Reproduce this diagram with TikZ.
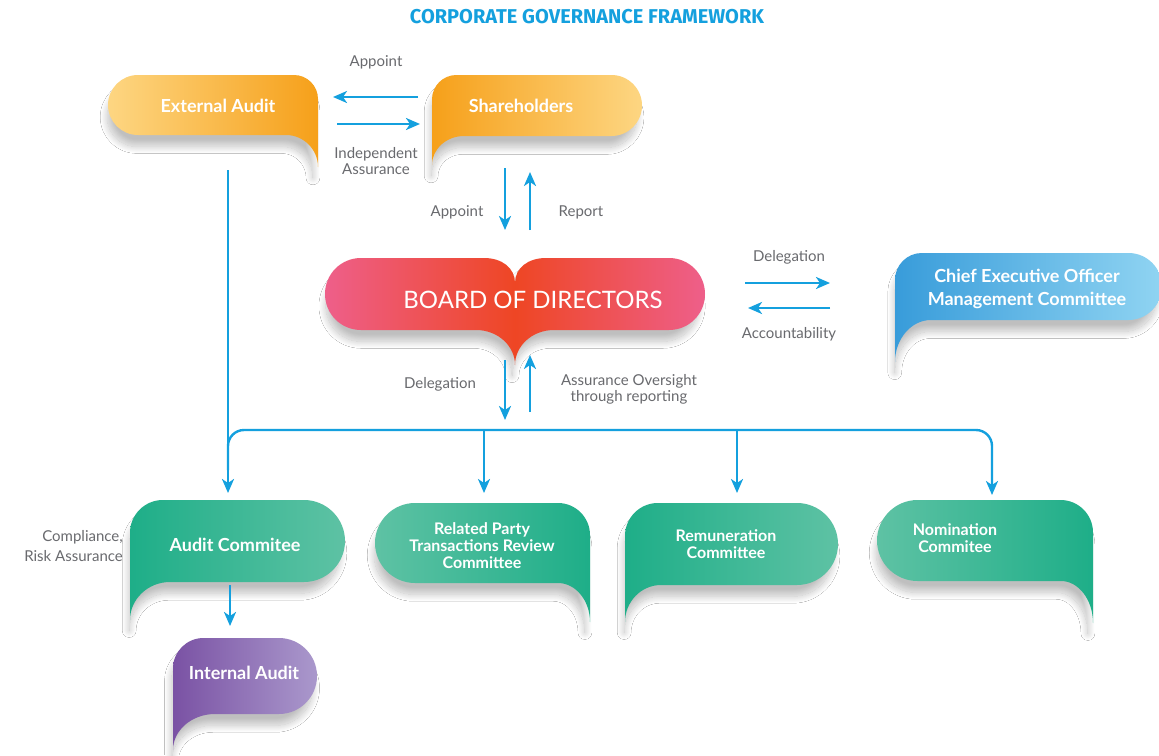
\documentclass[tikz,border=0pt]{standalone}
\usepackage{fontspec}
\setmainfont{Lato}
\newfontfamily\titlefont{Fira Sans}
\usetikzlibrary{arrows.meta, shadows.blur}

\definecolor{flowblue}{RGB}{20,160,222}
\definecolor{labelgray}{RGB}{105,106,110}
\definecolor{orangedark}{RGB}{246,160,26}
\definecolor{orangelight}{RGB}{253,214,130}
\definecolor{bodpink}{RGB}{238,95,138}
\definecolor{bodred}{RGB}{238,70,36}
\definecolor{ceodark}{RGB}{56,156,218}
\definecolor{ceolight}{RGB}{144,212,242}
\definecolor{greendark}{RGB}{30,174,136}
\definecolor{greenlight}{RGB}{94,194,164}
\definecolor{purpledark}{RGB}{122,82,164}
\definecolor{purplelight}{RGB}{170,152,204}

% speech bubble, tail hanging from the right end
% #1 style, #2 x1, #3 y1, #4 x2, #5 y2, #6 tip y, #7 tail width
\newcommand{\bubbleright}[7]{%
  \pgfmathsetmacro{\bR}{(#5-#3)/2}%
  \pgfmathsetmacro{\bK}{0.55*\bR}%
  \pgfmathsetmacro{\bC}{0.8*\bR}%
  \pgfmathsetmacro{\bCK}{0.55*\bC}%
  \pgfmathsetmacro{\bT}{0.55*(#6-#5)}%
  \pgfmathsetmacro{\bW}{0.55*#7}%
  \path[#1] ({#2+\bR},#3) -- ({#4-\bC},#3)
    .. controls ({#4-\bC+\bCK},#3) and (#4,{#3+\bC-\bCK}) .. (#4,{#3+\bC})
    -- (#4,#6)
    .. controls (#4,{#6-\bT}) and ({#4-#7+\bW},#5) .. ({#4-#7},#5)
    -- ({#2+\bR},#5)
    .. controls ({#2+\bR-\bK},#5) and (#2,{#5-\bR+\bK}) .. (#2,{#3+\bR})
    .. controls (#2,{#3+\bR-\bK}) and ({#2+\bR-\bK},#3) .. ({#2+\bR},#3) -- cycle;
}
% same, tail hanging from the left end
\newcommand{\bubbleleft}[7]{%
  \pgfmathsetmacro{\bR}{(#5-#3)/2}%
  \pgfmathsetmacro{\bK}{0.55*\bR}%
  \pgfmathsetmacro{\bC}{0.8*\bR}%
  \pgfmathsetmacro{\bCK}{0.55*\bC}%
  \pgfmathsetmacro{\bT}{0.55*(#6-#5)}%
  \pgfmathsetmacro{\bW}{0.55*#7}%
  \path[#1] ({#4-\bR},#3) -- ({#2+\bC},#3)
    .. controls ({#2+\bC-\bCK},#3) and (#2,{#3+\bC-\bCK}) .. (#2,{#3+\bC})
    -- (#2,#6)
    .. controls (#2,{#6-\bT}) and ({#2+#7-\bW},#5) .. ({#2+#7},#5)
    -- ({#4-\bR},#5)
    .. controls ({#4-\bR+\bK},#5) and (#4,{#5-\bR+\bK}) .. (#4,{#3+\bR})
    .. controls (#4,{#3+\bR-\bK}) and ({#4-\bR+\bK},#3) .. ({#4-\bR},#3) -- cycle;
}

\tikzset{
  flow/.style={draw=flowblue, line width=2.4pt, -{Stealth[length=14pt,width=12pt,inset=4pt]}},
  lbl/.style={text=labelgray, font=\fontsize{15}{16}\selectfont, align=center, inner sep=0pt},
  boxtext/.style={text=white, font=\bfseries\fontsize{18}{23}\selectfont, align=center, inner sep=0pt},
  smalltext/.style={boxtext, font=\bfseries\fontsize{16}{17}\selectfont},
  soft/.style={blur shadow={shadow xshift=-3pt, shadow yshift=-12pt, shadow scale=0.98, shadow blur radius=7pt, shadow blur steps=20, shadow opacity=25}},
}

\begin{document}
\begin{tikzpicture}[x=1pt, y=-1pt]
\useasboundingbox (0,0) rectangle (1159,755);
\fill[white] (0,0) rectangle (1159,755);

% title
\node[text=flowblue, font=\titlefont\bfseries\fontsize{20}{22}\selectfont] (title) at (587,17) {CORPORATE GOVERNANCE FRAMEWORK};

% bubbles
\bubbleright{soft, left color=orangelight, right color=orangedark}{108}{75}{318}{135}{167}{32}
\bubbleleft{soft, left color=orangedark, right color=orangelight}{432}{75}{642}{136}{165}{32}
\bubbleleft{soft, left color=ceodark, right color=ceolight}{895}{253}{1162}{320}{362}{36}
\bubbleleft{soft, left color=greendark, right color=greenlight}{130}{500}{345}{582}{620}{40}
\bubbleright{soft, left color=greenlight, right color=greendark}{375}{503}{590}{583}{622}{32}
\bubbleleft{soft, left color=greendark, right color=greenlight}{625}{503}{838}{585}{622}{36}
\bubbleright{soft, left color=greenlight, right color=greendark}{877}{500}{1093}{581}{623}{32}
\bubbleleft{soft, left color=purpledark, right color=purplelight}{173}{638}{317}{714}{750}{42}

% board: two lobes with a point underneath
\path[soft, left color=bodpink, right color=bodpink, middle color=bodred]
  (515,283) .. controls (515,268) and (502,258) .. (484,258) -- (361,258)
  .. controls (341,258) and (325,274) .. (325,294)
  .. controls (325,314) and (341,330) .. (361,330) -- (476,330)
  .. controls (498,330) and (515,346) .. (515,365)
  .. controls (515,346) and (532,330) .. (554,330) -- (669,330)
  .. controls (689,330) and (705,314) .. (705,294)
  .. controls (705,274) and (689,258) .. (669,258) -- (546,258)
  .. controls (528,258) and (515,268) .. (515,283) -- cycle;

% box texts
\node[boxtext] (ea) at (218,106) {External Audit};
\node[boxtext] (sh) at (521,106) {Shareholders};
\node[text=white, font=\fontsize{24}{26}\selectfont, inner sep=0pt] (bod) at (533,300) {BOARD OF DIRECTORS};
\node[boxtext] (ceo) at (1027,289) {Chief Executive Officer\\Management Committee};
\node[boxtext] (ac) at (235,545) {Audit Commitee};
\node[smalltext] (rpt) at (482,546) {Related Party\\Transactions Review\\Committee};
\node[smalltext] (rc) at (726,544) {Remuneration\\Committee};
\node[smalltext] (nc) at (955,538) {Nomination\\Commitee};
\node[boxtext] (ia) at (244,673) {Internal Audit};

% arrow ends
\foreach \n/\x/\y in {apS/418/97, apE/333/97, indS/337/124, indE/420/124,
    shdS/505/168, shdE/505/230, shuS/530/230, shuE/530/172,
    delS/745/283, delE/830/283, accS/830/308, accE/748/308,
    bddS/505/360, bddE/505/420, bduS/530/412, bduE/530/355,
    eaS/228/170, acT/228/493, busL/228/470, busR/992/430, ncT/992/495,
    rptS/484/430, rptT/484/493, rcS/737/430, rcT/737/493,
    acB/230/585, iaT/230/626}
  \coordinate (\n) at (\x,\y);

% arrows
\draw[flow] (apS) -- (apE);
\draw[flow] (indS) -- (indE);
\draw[flow] (shdS) -- (shdE);
\draw[flow] (shuS) -- (shuE);
\draw[flow] (delS) -- (delE);
\draw[flow] (accS) -- (accE);
\draw[flow] (bddS) -- (bddE);
\draw[flow] (bduS) -- (bduE);
\draw[flow] (eaS) -- (acT);
\draw[flow, rounded corners=16pt] (busL) |- (busR) -- (ncT);
\draw[flow] (rptS) -- (rptT);
\draw[flow] (rcS) -- (rcT);
\draw[flow] (acB) -- (iaT);

% arrow labels
\node[lbl] (lap1) at (376,62) {Appoint};
\node[lbl] (lind) at (376,161) {Independent\\Assurance};
\node[lbl] (lap2) at (457,212) {Appoint};
\node[lbl] (lrep) at (581,212) {Report};
\node[lbl] (ldel1) at (789,257) {Delegation};
\node[lbl] (lacc) at (789,334) {Accountability};
\node[lbl] (ldel2) at (440,384) {Delegation};
\node[lbl] (lass) at (629,389) {Assurance Oversight\\through reporting};
\node[lbl, align=right, anchor=east, font=\fontsize{15}{20}\selectfont] (lcomp) at (123,546) {Compliance,\\Risk Assurance};
\end{tikzpicture}
\end{document}
